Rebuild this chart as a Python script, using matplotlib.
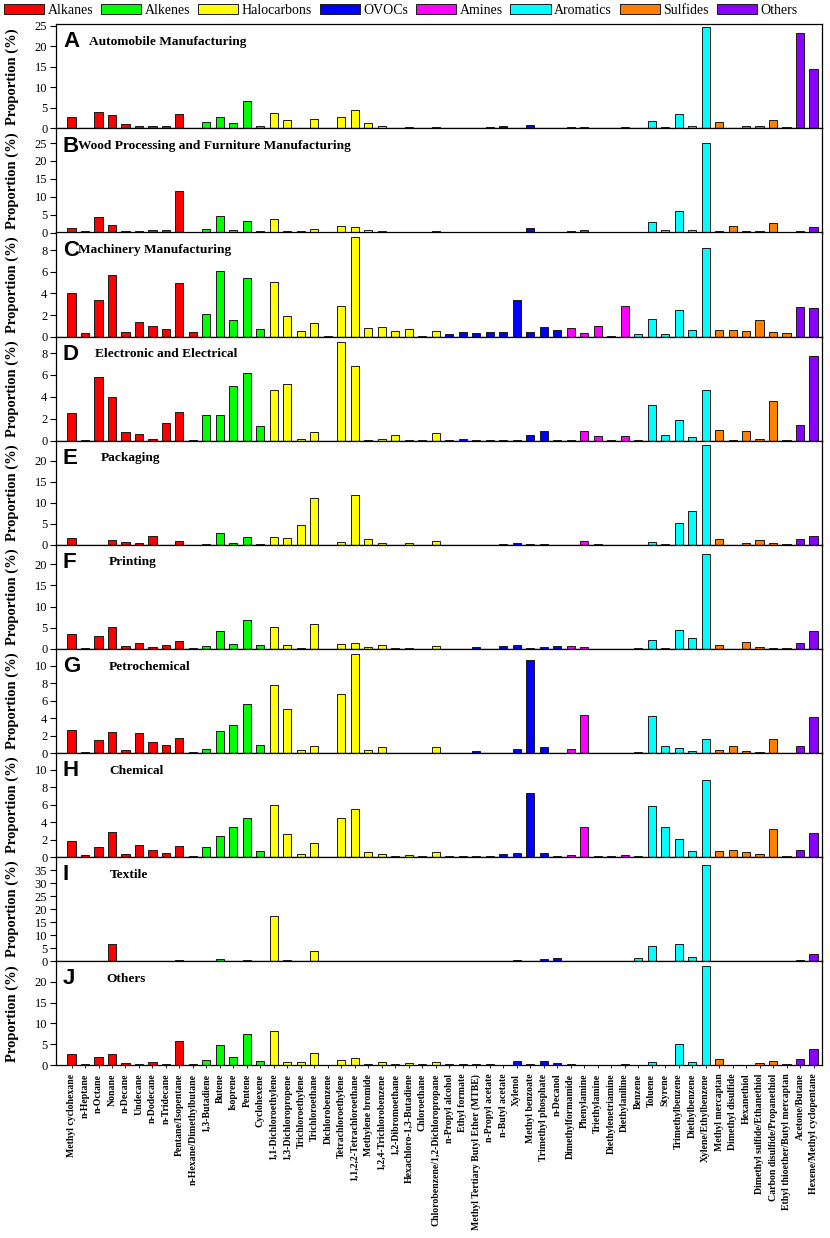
import matplotlib
matplotlib.use('Agg')
import matplotlib.pyplot as plt
from matplotlib.patches import Patch
import numpy as np

plt.rcParams['font.family'] = ['Liberation Serif', 'DejaVu Serif']

compounds = [
    "Methyl cyclohexane", "n-Heptane", "n-Octane", "Nonane", "n-Decane", "Undecane",
    "n-Dodecane", "n-Tridecane", "Pentane/Isopentane", "n-Hexane/Dimethylbutane",
    "1,3-Butadiene", "Butene", "Isoprene", "Pentene", "Cyclohexene",
    "1,1-Dichloroethylene", "1,3-Dichloropropene", "Trichloroethylene", "Trichloroethane",
    "Dichlorobenzene", "Tetrachloroethylene", "1,1,2,2-Tetrachloroethane", "Methylene bromide",
    "1,2,4-Trichlorobenzene", "1,2-Dibromoethane", "Hexachloro-1,3-Butadiene", "Chloroethane",
    "Chlorobenzene/1,2-Dichloropropane",
    "n-Propyl alcohol", "Ethyl formate", "Methyl Tertiary Butyl Ether (MTBE)", "n-Propyl acetate",
    "n-Butyl acetate", "Xylenol", "Methyl benzoate", "Trimethyl phosphate", "n-Decanol",
    "Dimethylformamide", "Phenylamine", "Triethylamine", "Diethylenetriamine", "Diethylaniline",
    "Benzene", "Toluene", "Styrene", "Trimethylbenzene", "Diethylbenzene", "Xylene/Ethylbenzene",
    "Methyl mercaptan", "Dimethyl disulfide", "Hexanethiol", "Dimethyl sulfide/Ethanethiol",
    "Carbon disulfide/Propanethiol", "Ethyl thioether/Butyl mercaptan",
    "Acetone/Butane", "Hexene/Methyl cyclopentane",
]

groups = ["Alkanes", "Alkenes", "Halocarbons", "OVOCs", "Amines", "Aromatics", "Sulfides", "Others"]
group_sizes = [10, 5, 13, 9, 5, 6, 6, 2]
group_colors = ["#FF0000", "#00FF00", "#FFFF00", "#0000FF", "#FF00FF", "#00FFFF", "#FF8000", "#8B00FF"]

automobile = [2.8, 0.2, 3.9, 3.3, 1.1, 0.6, 0.5, 0.7, 3.5, 0.2,
              1.5, 2.7, 1.4, 6.6, 0.7,
              3.8, 2.1, 0.2, 2.3, 0.1, 2.8, 4.4, 1.2, 0.5, 0.2, 0.4, 0.2, 0.4,
              0.2, 0.0, 0.2, 0.4, 0.7, 0.2, 0.9, 0.2, 0.1,
              0.4, 0.4, 0.2, 0.2, 0.3,
              0.1, 1.9, 0.3, 3.4, 0.5, 24.6,
              1.6, 0.2, 0.7, 0.7, 2.0, 0.3,
              23.2, 14.5]
wood = [1.2, 0.3, 4.2, 2.2, 0.3, 0.4, 0.7, 0.6, 11.5, 0.05,
        1.0, 4.6, 0.8, 3.3, 0.4,
        3.9, 0.4, 0.3, 1.1, 0.0, 1.9, 1.5, 0.6, 0.4, 0.1, 0.2, 0.0, 0.5,
        0.1, 0.0, 0.1, 0.0, 0.0, 0.1, 1.3, 0.1, 0.0,
        0.3, 0.8, 0.0, 0.1, 0.2,
        0.1, 2.9, 0.6, 5.9, 0.6, 25.1,
        0.5, 1.8, 0.3, 0.3, 2.6, 0.1,
        0.5, 1.5]
machinery = [4.0, 0.35, 3.4, 5.75, 0.4, 1.35, 0.95, 0.75, 5.0, 0.45,
             2.1, 6.05, 1.5, 5.45, 0.75,
             5.05, 1.9, 0.5, 1.3, 0.1, 2.85, 9.2, 0.8, 0.9, 0.5, 0.7, 0.1, 0.55,
             0.2, 0.45, 0.35, 0.45, 0.45, 3.35, 0.45, 0.9, 0.6,
             0.8, 0.35, 0.95, 0.1, 2.85,
             0.25, 1.6, 0.25, 2.45, 0.6, 8.25,
             0.6, 0.6, 0.5, 1.55, 0.45, 0.3,
             2.7, 2.65]
electronic = [2.5, 0.05, 5.8, 4.0, 0.8, 0.65, 0.2, 1.6, 2.6, 0.1,
              2.3, 2.3, 5.0, 6.15, 1.3,
              4.65, 5.15, 0.15, 0.8, 0.0, 9.0, 6.85, 0.1, 0.15, 0.55, 0.1, 0.05, 0.7,
              0.05, 0.2, 0.1, 0.02, 0.08, 0.1, 0.55, 0.9, 0.05,
              0.05, 0.85, 0.4, 0.1, 0.45,
              0.1, 3.3, 0.55, 1.85, 0.35, 4.6,
              1.0, 0.05, 0.9, 0.2, 3.65, 0.02,
              1.45, 7.75]
packaging = [1.6, 0.05, 0.0, 1.1, 0.7, 0.35, 2.1, 0.05, 0.9, 0.0,
             0.3, 2.8, 0.4, 1.8, 0.3,
             1.8, 1.7, 4.8, 11.2, 0.0, 0.7, 11.8, 1.4, 0.5, 0.0, 0.4, 0.0, 0.8,
             0.0, 0.0, 0.0, 0.0, 0.3, 0.5, 0.3, 0.15, 0.0,
             0.0, 1.0, 0.1, 0.0, 0.0,
             0.05, 0.6, 0.15, 5.3, 8.1, 23.8,
             1.4, 0.05, 0.4, 1.2, 0.5, 0.3,
             1.5, 2.0]
printing = [3.6, 0.2, 3.0, 5.1, 0.6, 1.3, 0.5, 0.9, 1.9, 0.3,
            0.6, 4.2, 1.1, 6.8, 1.0,
            5.2, 1.0, 0.3, 5.9, 0.05, 1.1, 1.5, 0.4, 0.9, 0.2, 0.1, 0.0, 0.7,
            0.05, 0.0, 0.4, 0.05, 0.6, 0.9, 0.2, 0.35, 0.7,
            0.6, 0.5, 0.05, 0.05, 0.05,
            0.3, 2.2, 0.1, 4.4, 2.6, 22.4,
            1.0, 0.05, 1.6, 0.5, 0.3, 0.2,
            1.5, 4.2]
petrochemical = [2.6, 0.15, 1.5, 2.4, 0.4, 2.3, 1.25, 0.9, 1.7, 0.1,
                 0.45, 2.55, 3.2, 5.6, 0.95,
                 7.75, 5.0, 0.3, 0.8, 0.0, 6.8, 11.3, 0.3, 0.7, 0.0, 0.05, 0.05, 0.65,
                 0.05, 0.05, 0.25, 0.05, 0.05, 0.45, 10.6, 0.65, 0.02,
                 0.45, 4.35, 0.05, 0.05, 0.05,
                 0.1, 4.25, 0.8, 0.55, 0.25, 1.55,
                 0.4, 0.75, 0.25, 0.1, 1.6, 0.05,
                 0.75, 4.1]
chemical = [1.8, 0.2, 1.1, 2.85, 0.4, 1.35, 0.8, 0.5, 1.25, 0.15,
            1.1, 2.4, 3.45, 4.5, 0.65,
            6.0, 2.6, 0.35, 1.65, 0.05, 4.5, 5.55, 0.55, 0.35, 0.15, 0.25, 0.1, 0.6,
            0.15, 0.15, 0.15, 0.1, 0.3, 0.5, 7.3, 0.5, 0.15,
            0.25, 3.4, 0.1, 0.1, 0.25,
            0.15, 5.85, 3.4, 2.1, 0.65, 8.8,
            0.75, 0.8, 0.6, 0.4, 3.25, 0.15,
            0.8, 2.7]
textile = [0.0, 0.0, 0.0, 6.5, 0.0, 0.0, 0.0, 0.0, 0.3, 0.2,
           0.0, 1.0, 0.0, 0.6, 0.0,
           17.2, 0.6, 0.0, 3.9, 0.1, 0.0, 0.0, 0.0, 0.0, 0.0, 0.0, 0.0, 0.0,
           0.0, 0.0, 0.0, 0.0, 0.0, 0.5, 0.0, 1.0, 1.3,
           0.0, 0.0, 0.0, 0.0, 0.0,
           1.3, 5.9, 0.0, 6.8, 1.5, 37.0,
           0.0, 0.0, 0.0, 0.0, 0.0, 0.0,
           0.4, 2.7]
others = [2.6, 0.3, 1.9, 2.6, 0.6, 0.4, 0.7, 0.3, 5.9, 0.4,
          1.3, 4.8, 2.1, 7.4, 1.1,
          8.2, 0.7, 0.8, 3.0, 0.0, 1.3, 1.7, 0.2, 0.8, 0.4, 0.5, 0.2, 0.7,
          0.3, 0.3, 0.3, 0.2, 0.1, 1.0, 0.3, 1.1, 0.5,
          0.2, 0.1, 0.1, 0.1, 0.4,
          0.1, 0.7, 0.0, 5.1, 0.7, 23.7,
          1.5, 0.1, 0.1, 0.5, 1.1, 0.4,
          1.4, 3.8]

panel_letters = ["A", "B", "C", "D", "E", "F", "G", "H", "I", "J"]
panel_titles = ["Automobile Manufacturing", "Wood Processing and Furniture Manufacturing",
                "Machinery Manufacturing", "Electronic and Electrical", "Packaging",
                "Printing", "Petrochemical", "Chemical", "Textile", "Others"]
panel_values = [automobile, wood, machinery, electronic, packaging,
                printing, petrochemical, chemical, textile, others]
panel_ymax = [25.3, 29.1, 9.65, 9.5, 24.8, 24.6, 11.9, 11.9, 40.0, 24.9]
panel_ystep = [5, 5, 2, 2, 5, 5, 2, 2, 5, 5]
panel_ytop_tick = [25, 25, 8, 8, 20, 20, 10, 10, 35, 20]
title_x_px = [89, 78, 78, 95, 100.5, 108.5, 108.5, 109.5, 109.5, 106]

bar_colors = []
for c, n in zip(group_colors, group_sizes):
    bar_colors += [c] * n

W, H = 830, 1238
fig = plt.figure(figsize=(W / 100, H / 100), dpi=100)

ax_left_px, ax_right_px = 55.6, 822.0
ax_top_px, ax_h_px = 24.3, 104.1
ax_w_px = ax_right_px - ax_left_px

x = np.arange(len(compounds))
for i in range(10):
    bottom_px = ax_top_px + (i + 1) * ax_h_px
    ax = fig.add_axes([ax_left_px / W, 1 - bottom_px / H, ax_w_px / W, ax_h_px / H])
    ax.bar(x, panel_values[i], width=0.6, color=bar_colors, edgecolor="#1a1a1a", linewidth=0.7)
    ax.set_xlim(-1.18, 55.63)
    ax.set_ylim(0, panel_ymax[i])
    ax.set_yticks(np.arange(0, panel_ytop_tick[i] + 0.01, panel_ystep[i]))
    ax.tick_params(axis="y", direction="out", length=4, width=0.8, labelsize=9, pad=2)
    ax.set_xticks(x)
    ax.tick_params(axis="x", direction="out", length=2.5, width=0.6)
    for s in ax.spines.values():
        s.set_linewidth(0.9)
    if i < 9:
        ax.set_xticklabels([])
    else:
        ax.set_xticklabels(compounds, rotation=90, fontsize=7, fontweight="bold")
    ax.text(-0.057, 0.5, "Proportion (%)", rotation=90, transform=ax.transAxes,
            ha="center", va="center", fontsize=10.5, fontweight="bold")
    ax.text((63 - ax_left_px) / ax_w_px, 0.83, panel_letters[i], transform=ax.transAxes,
            ha="left", va="center", fontsize=16, fontweight="bold",
            family=["Liberation Sans", "DejaVu Sans"])
    ax.text((title_x_px[i] - ax_left_px) / ax_w_px, 0.83, panel_titles[i], transform=ax.transAxes,
            ha="left", va="center", fontsize=9.6, fontweight="bold")

handles = [Patch(facecolor=c, edgecolor="#1a1a1a", linewidth=0.7) for c in group_colors]
fig.legend(handles, groups, loc="upper left", bbox_to_anchor=(0.0, 1.0), ncol=8,
           frameon=False, fontsize=10, handlelength=2.9, handleheight=0.75,
           handletextpad=0.25, columnspacing=0.55, borderaxespad=0.2, borderpad=0.1)

fig.savefig("out.png", dpi=100)
